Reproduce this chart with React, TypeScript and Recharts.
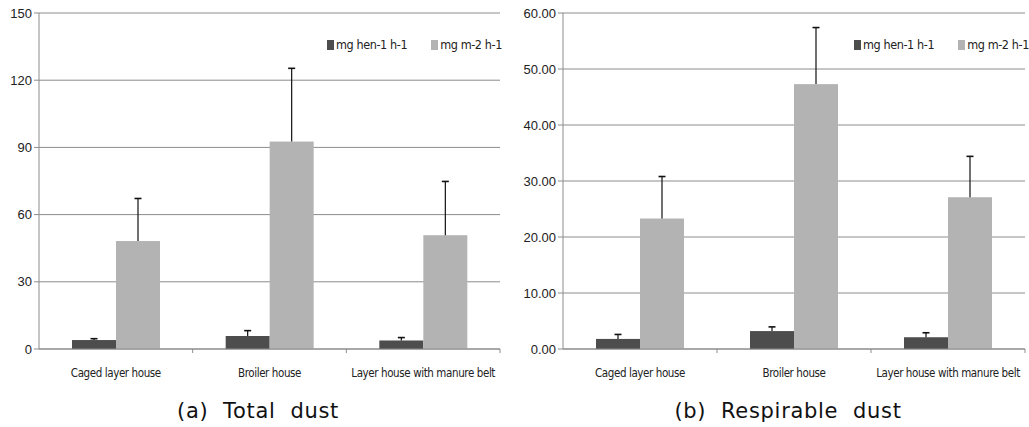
import React from 'react';
import { BarChart, Bar, XAxis, YAxis, CartesianGrid } from 'recharts';

const categories = ['Caged layer house', 'Broiler house', 'Layer house with manure belt'];
const seriesNames = ['mg hen-1 h-1', 'mg m-2 h-1'];

const totalHen = [4.0, 5.8, 3.8];
const totalHenErr = [0.6, 2.4, 1.3];
const totalArea = [48.2, 92.6, 50.8];
const totalAreaErr = [19.0, 32.7, 24.0];
const totalTicks = [0, 30, 60, 90, 120, 150];

const respHen = [1.8, 3.2, 2.1];
const respHenErr = [0.8, 0.75, 0.8];
const respArea = [23.3, 47.3, 27.1];
const respAreaErr = [7.5, 10.1, 7.3];
const respTicks = [0, 10, 20, 30, 40, 50, 60];

const DARK = '#4d4d4d';
const LIGHT = '#b3b3b3';
const GRID = '#8c8c8c';
const NARROW = "'DejaVu Sans Condensed', 'DejaVu Sans', sans-serif";
const SANS = "'Liberation Sans', Arial, sans-serif";

const build = (hen: number[], henErr: number[], area: number[], areaErr: number[]) =>
  categories.map((name, i) => ({ name, hen: hen[i], henErr: henErr[i], area: area[i], areaErr: areaErr[i] }));

const totalData = build(totalHen, totalHenErr, totalArea, totalAreaErr);
const respData = build(respHen, respHenErr, respArea, respAreaErr);

const errShape = (valKey: string, errKey: string) => (props: any) => {
  const { x, y, width, height, fill, payload } = props;
  const v = payload[valKey];
  const e = payload[errKey];
  const ePx = v ? (e * height) / v : 0;
  const cx = x + width / 2;
  return (
    <g>
      <rect x={x} y={y} width={width} height={height} fill={fill} />
      <line x1={cx} x2={cx} y1={y} y2={y - ePx} stroke="#111" strokeWidth={1.2} />
      <line x1={cx - 3.5} x2={cx + 3.5} y1={y - ePx} y2={y - ePx} stroke="#111" strokeWidth={1.6} />
    </g>
  );
};

const CatTick = (props: any) => {
  const { x, y, payload, width, visibleTicksCount } = props;
  const half = width / visibleTicksCount / 2;
  return (
    <g>
      <line x1={x + half} x2={x + half} y1={y - 5} y2={y - 1} stroke={GRID} />
      <text
        x={x}
        y={y + 23}
        textAnchor="middle"
        fontFamily={NARROW}
        fontSize={11.5}
        fill="#222"
        style={{ fontStretch: 'condensed', letterSpacing: -0.4 }}
      >
        {payload.value}
      </text>
    </g>
  );
};

const LegendBox = ({ left }: { left: number }) => (
  <div
    style={{
      position: 'absolute',
      left,
      top: 37,
      display: 'flex',
      fontFamily: NARROW,
      fontStretch: 'condensed',
      fontSize: 12.5,
      letterSpacing: -0.4,
      color: '#222',
      whiteSpace: 'nowrap',
    }}
  >
    {seriesNames.map((n, i) => (
      <div key={n} style={{ display: 'flex', alignItems: 'center', marginRight: i === 0 ? 24 : 0 }}>
        <div style={{ width: 7, height: 10, background: i === 0 ? DARK : LIGHT, marginRight: 2 }} />
        <span>{n}</span>
      </div>
    ))}
  </div>
);

const Panel = ({ data, ticks, fmt, width, axisW, marginRight, caption, legendLeft, captionCenter }: any) => (
  <div style={{ position: 'relative', width, height: 427 }}>
    <BarChart width={width} height={395} data={data} margin={{ top: 13, right: marginRight, left: 0, bottom: 0 }} barGap={0} barSize={44}>
      <CartesianGrid vertical={false} stroke={GRID} strokeWidth={1} />
      <XAxis dataKey="name" stroke={GRID} tickLine={false} tickSize={5} tickMargin={0} height={46} tick={<CatTick />} interval={0} />
      <YAxis
        width={axisW}
        domain={[ticks[0], ticks[ticks.length - 1]]}
        ticks={ticks}
        tickFormatter={fmt}
        stroke={GRID}
        tickSize={5}
        tickMargin={2}
        tick={{ fill: '#222', fontFamily: SANS, fontSize: 13 }}
        interval={0}
      />
      <Bar dataKey="hen" name={seriesNames[0]} fill={DARK} isAnimationActive={false} shape={errShape('hen', 'henErr')} />
      <Bar dataKey="area" name={seriesNames[1]} fill={LIGHT} isAnimationActive={false} shape={errShape('area', 'areaErr')} />
    </BarChart>
    <LegendBox left={legendLeft} />
    <div
      style={{
        position: 'absolute',
        left: captionCenter - 150,
        width: 300,
        top: 397,
        textAlign: 'center',
        fontFamily: "'DejaVu Sans', sans-serif",
        fontSize: 21,
        letterSpacing: 0.7,
        whiteSpace: 'pre',
        color: '#111',
        lineHeight: '28px',
      }}
    >
      {caption}
    </div>
  </div>
);

export default function App() {
  return (
    <div style={{ position: 'absolute', left: 0, top: 0, width: 1029, height: 427, background: '#fff', display: 'flex' }}>
      <Panel data={totalData} ticks={totalTicks} fmt={(v: number) => String(v)} width={514} axisW={39} marginRight={14} caption={'(a)  Total  dust'} legendLeft={327} captionCenter={258} />
      <Panel data={respData} ticks={respTicks} fmt={(v: number) => v.toFixed(2)} width={515} axisW={49} marginRight={4} caption={'(b)  Respirable  dust'} legendLeft={340} captionCenter={274} />
    </div>
  );
}
